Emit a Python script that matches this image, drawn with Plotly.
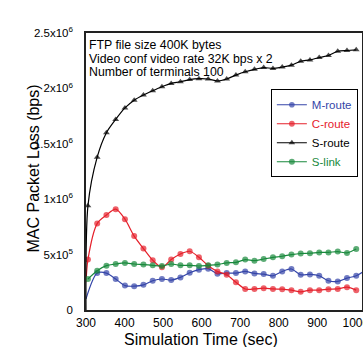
import plotly.graph_objects as go

# time points (sec): one starting point at 300 plus 30 sampled points
t_start = [300]
t_samples = [305, 329, 353, 377, 401, 425, 449, 473, 497, 521, 545, 569, 593, 617, 641,
             665, 689, 713, 737, 761, 785, 809, 833, 857, 881, 905, 929, 953, 977, 1001]

m_route = [0.10, None, 0.333, 0.333, 0.28, 0.22, 0.215, 0.227, 0.264, 0.28, 0.27, 0.294, 0.336, 0.364, 0.373, 0.327,
           0.333, 0.333, 0.348, 0.33, 0.324, 0.309, 0.348, 0.37, 0.318, 0.321, 0.309, 0.264, 0.258, 0.288, 0.309]
m_route_tail_t = [1025]
m_route_tail = [0.36]

c_route = [0.25, 0.455, 0.78, 0.857, 0.91, 0.82, 0.667, 0.555, 0.45, 0.385, 0.455, 0.506, 0.53, 0.476, 0.40, 0.348,
           0.318, 0.25, 0.19, 0.19, 0.197, 0.19, 0.188, 0.179, 0.164, 0.179, 0.179, 0.188, 0.19, 0.206, 0.179]

s_route = [0.0, 0.94, 1.379, 1.60, 1.72, 1.824, 1.894, 1.94, 1.979, 2.015, 2.045, 2.06, 2.08, 2.088, 2.085, 2.067,
           2.085, 2.12, 2.15, 2.172, 2.188, 2.18, 2.193, 2.21, 2.245, 2.257, 2.279, 2.297, 2.335, 2.342, 2.348]

s_link = [None, 0.28, 0.355, 0.40, 0.415, 0.425, 0.415, 0.41, 0.403, 0.397, 0.415, 0.403, 0.403, 0.397, 0.403, 0.41,
          0.425, 0.43, 0.455, 0.445, 0.46, 0.475, 0.485, 0.50, 0.51, 0.512, 0.52, 0.52, 0.527, 0.515, 0.55]

scale = 1e6
y_tickvals = [0, 5e5, 1e6, 1.5e6, 2e6, 2.5e6]
y_ticktext = ["0", "5x10<sup>5</sup>", "1x10<sup>6</sup>", "1.5x10<sup>6</sup>", "2x10<sup>6</sup>", "2.5x10<sup>6</sup>"]
x_tickvals = [300, 400, 500, 600, 700, 800, 900, 1000]

notes = ["FTP file size 400K bytes", "Video conf video rate 32K bps x 2", "Number of terminals 100"]
y_title = "MAC Packet Loss (bps)"
x_title = "Simulation Time (sec)"

BLUE = "#3445a8"
RED = "#e5202b"
BLACK = "#000000"
GREEN = "#18893c"


def pairs(ts, vs):
    xs, ys = [], []
    for t, v in zip(ts, vs):
        if v is not None:
            xs.append(t)
            ys.append(v * scale)
    return xs, ys


all_t = t_start + t_samples

fig = go.Figure()

series = [
    ("M-route", all_t + m_route_tail_t, m_route + m_route_tail, BLUE, "circle", 6),
    ("C-route", all_t, c_route, RED, "circle", 6),
    ("S-route", all_t, s_route, BLACK, "triangle-up", 6),
    ("S-link", all_t, s_link, GREEN, "circle", 6),
]

for name, ts, vs, col, sym, msize in series:
    xs, ys = pairs(ts, vs)
    sizes = [0 if (t < 302 or t > 1010) else msize for t in xs]
    fig.add_trace(go.Scatter(
        x=xs, y=ys, mode="lines+markers",
        name=f'<span style="color:{col}">{name}</span>',
        line=dict(color=col, width=1.2, shape="spline", smoothing=0.8),
        marker=dict(color=col, size=sizes, symbol=sym, line=dict(width=0)),
        cliponaxis=True,
    ))

for i, txt in enumerate(notes):
    fig.add_annotation(
        x=0.005, y=0.99 - i * 0.05, xref="paper", yref="paper",
        xanchor="left", yanchor="top", text=txt, showarrow=False,
        font=dict(size=12.3, color="black"),
    )

fig.add_annotation(
    x=-0.192, y=0.511, xref="paper", yref="paper", xanchor="center", yanchor="middle",
    text=y_title, textangle=-90, showarrow=False, font=dict(size=16, color="black"),
)
fig.add_annotation(
    x=0.415, y=-0.107, xref="paper", yref="paper", xanchor="center", yanchor="middle",
    text=x_title, showarrow=False, font=dict(size=16, color="black"),
)

fig.update_layout(
    width=363, height=347,
    margin=dict(l=86, r=1, t=33, b=37),
    paper_bgcolor="white", plot_bgcolor="white",
    font=dict(family="Liberation Sans, Arial, sans-serif", color="black", size=12),
    showlegend=True,
    legend=dict(
        x=0.985, y=0.797, xanchor="right", yanchor="top",
        bgcolor="white", bordercolor="black", borderwidth=1,
        font=dict(size=11.5), tracegroupgap=0, itemwidth=30,
    ),
    xaxis=dict(
        range=[300, 1016], tickvals=x_tickvals, ticks="", showgrid=False, zeroline=False,
        showline=True, linecolor="#222", linewidth=1.5, mirror=True, automargin=False,
        ticklabelstandoff=1, ticklabeloverflow="allow", tickfont=dict(size=12),
    ),
    yaxis=dict(
        range=[0, 2.5e6], tickvals=y_tickvals, ticktext=y_ticktext, ticks="",
        showgrid=False, zeroline=False, automargin=False,
        showline=True, linecolor="#222", linewidth=1.5, mirror=True,
        ticklabelstandoff=9, tickfont=dict(size=11.5),
    ),
)

fig.write_html(
    "out.html",
    config={"displayModeBar": False},
    post_script="document.body.style.margin='0';document.body.style.padding='0';document.body.style.overflow='hidden';",
)
